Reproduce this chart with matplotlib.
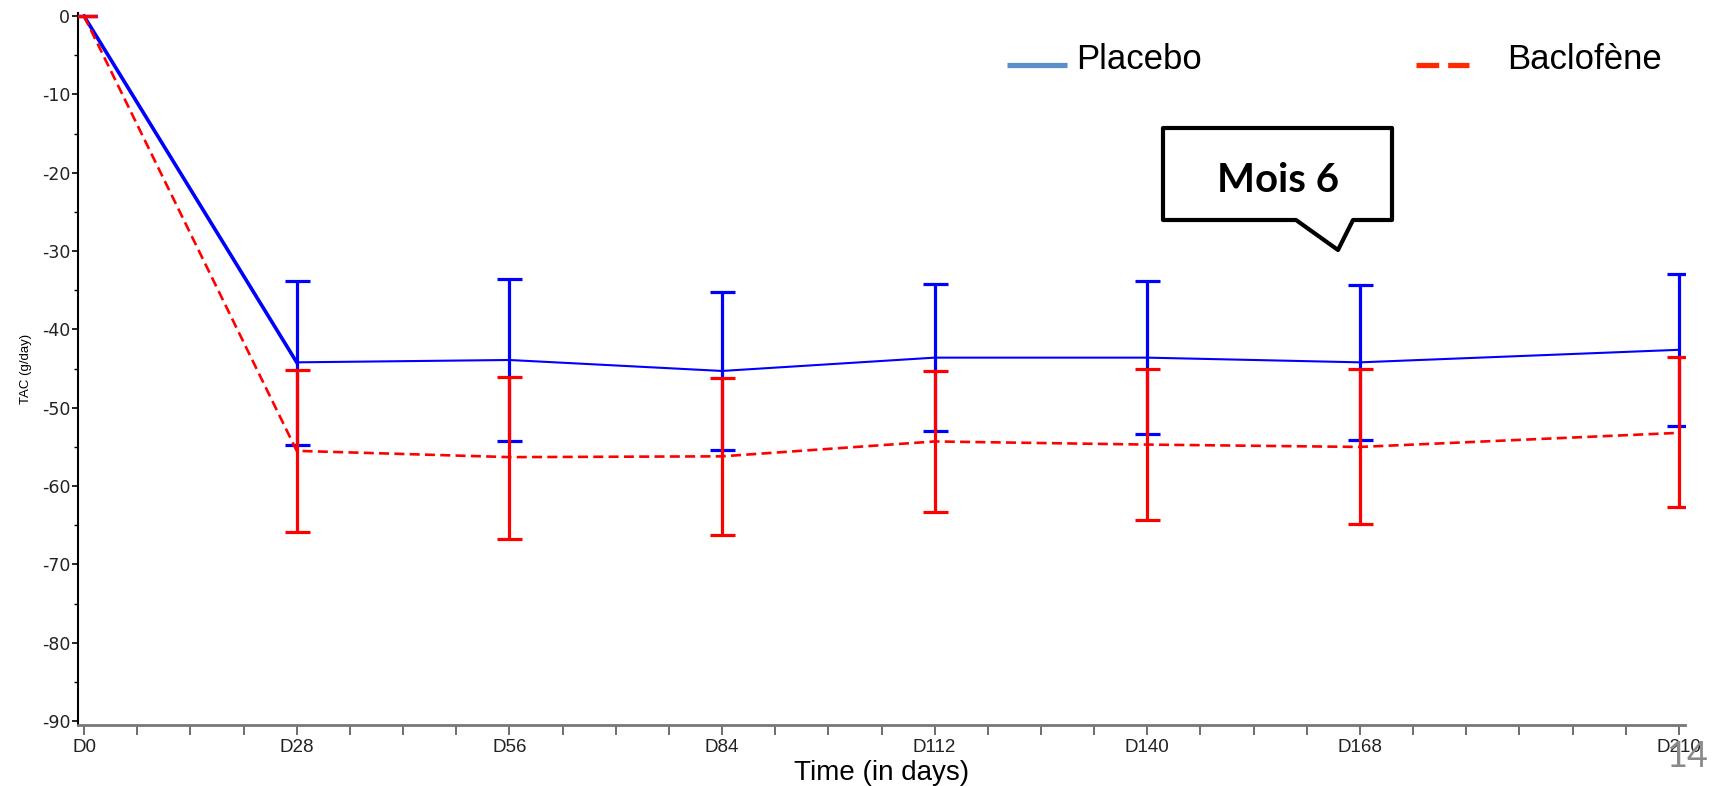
import matplotlib
matplotlib.use('agg')
import matplotlib.pyplot as plt
from matplotlib.lines import Line2D
from matplotlib.patches import Polygon
from matplotlib.ticker import MultipleLocator
import numpy as np

# data (TAC change, g/day)
days = [0, 28, 56, 84, 112, 140, 168, 210]
day_labels = ["D0", "D28", "D56", "D84", "D112", "D140", "D168", "D210"]

placebo_mean = [0, -44.2, -43.9, -45.3, -43.6, -43.6, -44.2, -42.6]
placebo_hi = [0, -33.8, -33.5, -35.2, -34.2, -33.8, -34.3, -32.9]
placebo_lo = [0, -54.7, -54.3, -55.4, -53.0, -53.3, -54.1, -52.3]

baclo_mean = [0, -55.5, -56.3, -56.2, -54.3, -54.7, -55.0, -53.2]
baclo_hi = [0, -45.2, -46.1, -46.2, -45.3, -45.0, -45.1, -43.5]
baclo_lo = [0, -65.9, -66.7, -66.3, -63.3, -64.3, -64.9, -62.7]

W, H = 1717, 786
plt.rcParams['font.family'] = ['Liberation Sans', 'DejaVu Sans']
plt.rcParams['axes.unicode_minus'] = False

fig = plt.figure(figsize=(W / 100, H / 100), dpi=100)
ax = fig.add_axes([78 / W, 61 / H, (1685 - 78) / W, (725 - 13) / H])


def fx(px):
    return px / W


def fy(py):
    return 1 - py / H


pm = np.array(placebo_mean)
bm = np.array(baclo_mean)
perr = [pm - np.array(placebo_lo), np.array(placebo_hi) - pm]
berr = [bm - np.array(baclo_lo), np.array(baclo_hi) - bm]

# placebo
ax.errorbar(days, pm, yerr=perr, color='#0000ff', lw=1.5, elinewidth=2.3,
            capsize=9, capthick=2.3, zorder=3)
ax.plot(days[:2], pm[:2], color='#0000ff', lw=2.6, zorder=3)

# baclofene
ax.errorbar(days, bm, yerr=berr, fmt='none', ecolor='#ff0000', elinewidth=2.3,
            capsize=9, capthick=2.3, zorder=4)
ax.plot(days, bm, color='#ff0000', lw=1.9, dashes=(3.8, 2), zorder=4)

ax.set_xlim(-0.8, 210.8)
ax.set_ylim(-90.5, 0.4)
ax.set_xticks(days)
ax.set_xticklabels(day_labels)
ax.xaxis.set_minor_locator(MultipleLocator(7))
ax.yaxis.set_major_locator(MultipleLocator(10))
ax.yaxis.set_minor_locator(MultipleLocator(5))

for s in ['top', 'right']:
    ax.spines[s].set_visible(False)
ax.spines['left'].set_linewidth(1.5)
ax.spines['left'].set_color('black')
ax.spines['bottom'].set_linewidth(2)
ax.spines['bottom'].set_color('#777777')

ax.tick_params(axis='x', which='both', length=7, width=1.2, color='#555555',
               labelsize=13.5, labelcolor='#222222', pad=3)
ax.tick_params(axis='y', which='major', length=4.5, width=1.2, labelsize=12.5,
               labelcolor='#222222', pad=1)
ax.tick_params(axis='y', which='minor', length=3, width=1)
for lab in ax.get_yticklabels():
    lab.set_family(['DejaVu Sans'])

ax.set_ylabel("TAC (g/day)", fontsize=9.5, labelpad=7)
ax.set_xlabel("Time (in days)", fontsize=20, labelpad=3)

# legend drawn like the slide overlay
fig.add_artist(Line2D([fx(1007), fx(1067)], [fy(64.5), fy(64.5)],
                      color='#5b8fcb', lw=3.8, solid_capstyle='butt'))
fig.text(fx(1076), fy(69), "Placebo", fontsize=25, va='baseline', ha='left')
fig.add_artist(Line2D([fx(1416), fx(1469)], [fy(64.5), fy(64.5)],
                      color='#ff2a00', lw=3.8, dashes=(4.3, 1.7),
                      dash_capstyle='butt'))
fig.text(fx(1507), fy(69), "Baclofène", fontsize=25, va='baseline', ha='left')

# speech bubble "Mois 6"
bubble = [(1163, 128), (1392, 128), (1392, 220), (1353, 220), (1338, 250),
          (1296, 220), (1163, 220)]
fig.add_artist(Polygon([(fx(a), fy(b)) for a, b in bubble], closed=True,
                       transform=fig.transFigure, facecolor='white',
                       edgecolor='black', lw=3, joinstyle='round', zorder=10))
fig.text(fx(1278), fy(180), "Mois 6", fontsize=29, fontweight='bold',
         family=['Lato', 'DejaVu Sans'], ha='center', va='center', zorder=11)

# slide number
fig.text(fx(1708), fy(767), "14", fontsize=26, color='#8a8a8a',
         family=['Lato', 'DejaVu Sans'], ha='right', va='baseline', zorder=12)

fig.savefig("out.png", dpi=100)
